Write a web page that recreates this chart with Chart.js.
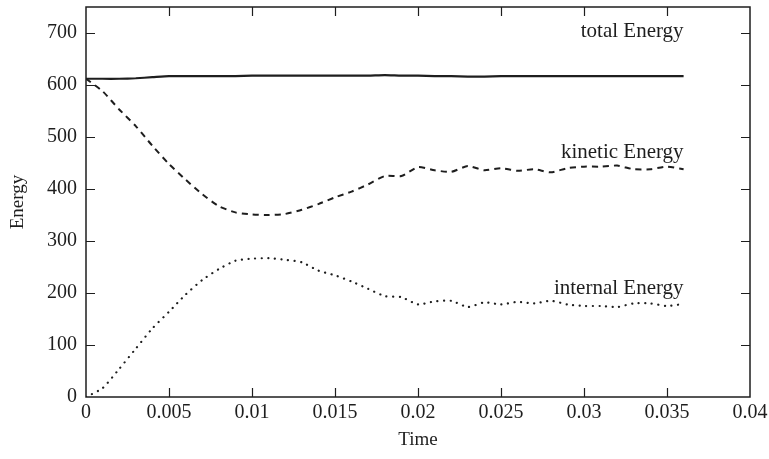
<!DOCTYPE html>
<html>
<head>
<meta charset="utf-8">
<script src="https://cdn.jsdelivr.net/npm/chart.js@4.4.0/dist/chart.umd.min.js"></script>
<style>
html,body{margin:0;padding:0;background:#fff;}
#wrap{width:769px;height:459px;}
</style>
</head>
<body>
<div id="wrap"><canvas id="c" width="769" height="459"></canvas></div>
<script>
const times = [0,0.001,0.002,0.003,0.004,0.005,0.006,0.007,0.008,0.009,0.010,0.011,0.012,0.013,0.014,0.015,0.016,0.017,0.018,0.019,0.020,0.021,0.022,0.023,0.024,0.025,0.026,0.027,0.028,0.029,0.030,0.031,0.032,0.033,0.034,0.035,0.036];
const totalEnergy = [612,612,612,613,615,617,617,617,617,617,618,618,618,618,618,618,618,618,619,618,618,617,617,616,616,617,617,617,617,617,617,617,617,617,617,617,617];
const kineticEnergy = [612,588,553,521,483,448,418,390,367,355,351,350,352,360,371,384,395,409,425,425,442,436,433,444,436,440,435,438,432,440,443,443,445,438,438,443,438];
const internalEnergy = [0,17,54,93,132,164,197,225,246,262,266,267,264,259,243,234,222,208,194,192,178,184,185,173,182,178,183,180,185,178,175,175,173,180,180,175,179];
const xTicks = [0,0.005,0.01,0.015,0.02,0.025,0.03,0.035,0.04];
const yTicks = [0,100,200,300,400,500,600,700];
const seriesLabels = ["total Energy","kinetic Energy","internal Energy"];
const labelAnchors = [[0.036,702],[0.036,471],[0.036,208]];

const pts = arr => times.map((t,i)=>({x:t,y:arr[i]}));
const INK = '#1e1e1e';
const FONT = '"Liberation Serif","DejaVu Serif",serif';

const frame = {
  id:'frame',
  afterDraw(chart){
    const {ctx, chartArea:a, scales:{x,y}} = chart;
    ctx.save();
    ctx.strokeStyle = INK;
    ctx.lineWidth = 1.5;
    ctx.strokeRect(a.left, a.top, a.right-a.left, a.bottom-a.top);
    ctx.lineWidth = 1.2;
    const L = 9;
    ctx.beginPath();
    xTicks.forEach(v=>{
      const px = Math.round(x.getPixelForValue(v))+0.5;
      if (px <= a.left+1 || px >= a.right-1) return;
      ctx.moveTo(px,a.bottom); ctx.lineTo(px,a.bottom-L);
      ctx.moveTo(px,a.top); ctx.lineTo(px,a.top+L);
    });
    yTicks.forEach(v=>{
      const py = Math.round(y.getPixelForValue(v))+0.5;
      if (py >= a.bottom-1 || py <= a.top+1) return;
      ctx.moveTo(a.left,py); ctx.lineTo(a.left+L,py);
      ctx.moveTo(a.right,py); ctx.lineTo(a.right-L,py);
    });
    ctx.stroke();
    ctx.fillStyle = INK;
    ctx.font = '21px '+FONT;
    ctx.textAlign = 'right';
    ctx.textBaseline = 'middle';
    seriesLabels.forEach((s,i)=>{
      ctx.fillText(s, x.getPixelForValue(labelAnchors[i][0]), y.getPixelForValue(labelAnchors[i][1]));
    });
    ctx.restore();
  }
};

new Chart(document.getElementById('c'), {
  type:'line',
  data:{
    datasets:[
      {label:seriesLabels[0], data:pts(totalEnergy), borderColor:INK, borderWidth:2.2, pointRadius:0, tension:0.2, fill:false},
      {label:seriesLabels[1], data:pts(kineticEnergy), borderColor:INK, borderWidth:2, borderDash:[6,5], pointRadius:0, tension:0.2, fill:false},
      {label:seriesLabels[2], data:pts(internalEnergy), borderColor:INK, borderWidth:2.2, borderDash:[0.1,6.5], borderCapStyle:'round', pointRadius:0, tension:0.2, fill:false}
    ]
  },
  options:{
    responsive:false,
    animation:false,
    layout:{padding:{top:7,right:19,left:0,bottom:0}},
    plugins:{legend:{display:false}, tooltip:{enabled:false}},
    scales:{
      x:{
        type:'linear', min:0, max:0.04,
        afterBuildTicks(s){ s.ticks = xTicks.map(v=>({value:v})); },
        afterFit(s){ s.height = 62; s.paddingRight = 0; },
        grid:{display:false, drawTicks:false},
        border:{display:false},
        ticks:{color:INK, font:{family:FONT, size:20}, padding:4, maxRotation:0, autoSkip:false,
          callback:v=>String(v)},
        title:{display:true, text:'Time', color:INK, font:{family:FONT, size:19}, padding:{top:2,bottom:8}}
      },
      y:{
        type:'linear', min:0, max:750,
        afterBuildTicks(s){ s.ticks = yTicks.map(v=>({value:v})); },
        afterFit(s){ s.width = 86; s.paddingTop = 0; s.paddingBottom = 0; },
        grid:{display:false, drawTicks:false},
        border:{display:false},
        ticks:{color:INK, font:{family:FONT, size:20, lineHeight:0.6}, padding:9, autoSkip:false},
        title:{display:true, text:'Energy', color:INK, font:{family:FONT, size:19}, padding:{top:7,bottom:6}}
      }
    }
  },
  plugins:[frame]
});
</script>
</body>
</html>
